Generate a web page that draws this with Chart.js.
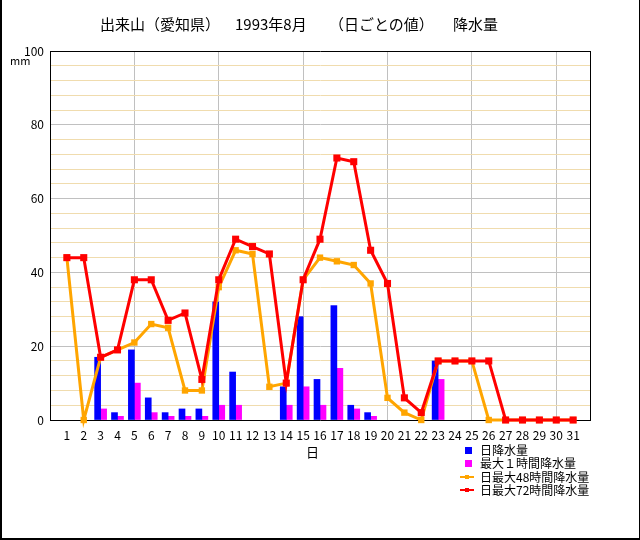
<!DOCTYPE html>
<html>
<head>
<meta charset="utf-8">
<script src="https://cdn.jsdelivr.net/npm/chart.js@4"></script>
<style>
html,body{margin:0;padding:0;background:#fff;}
#wrap{position:relative;width:640px;height:540px;background:#fff;overflow:hidden;}
#frame{position:absolute;left:0;top:0;width:640px;height:540px;box-sizing:border-box;border-left:2px solid #000;border-right:1px solid #000;border-bottom:2px solid #000;pointer-events:none;}
.t{position:absolute;font-family:"Noto Sans CJK JP","Noto Sans",sans-serif;color:#000;white-space:nowrap;line-height:1;}
.title{font-size:15px;top:16px;}
.lg{font-size:12px;left:480px;}
.sw{position:absolute;}
</style>
</head>
<body>
<div id="wrap">
<canvas id="c" width="640" height="540"></canvas>
<div class="t title" style="left:100px">出来山（愛知県）</div>
<div class="t title" style="left:235px">1993年8月</div>
<div class="t title" style="left:329px">（日ごとの値）</div>
<div class="t title" style="left:453px">降水量</div>
<div class="t" style="left:10px;top:55px;font-size:11px;">mm</div>
<div class="t" style="left:306px;top:445px;font-size:13px;">日</div>
<div class="sw" style="left:465px;top:447px;width:7px;height:7px;background:#0000ff"></div>
<div class="t lg" style="top:444px">日降水量</div>
<div class="sw" style="left:465px;top:460px;width:7px;height:7px;background:#ff00ff"></div>
<div class="t lg" style="top:457px">最大１時間降水量</div>
<div class="sw" style="left:460px;top:476px;width:14px;height:2px;background:#ffa500"></div>
<div class="sw" style="left:465px;top:475px;width:4px;height:4px;background:#ffa500"></div>
<div class="t lg" style="top:471px">日最大48時間降水量</div>
<div class="sw" style="left:460px;top:489px;width:14px;height:2px;background:#ff0000"></div>
<div class="sw" style="left:465px;top:488px;width:4px;height:4px;background:#ff0000"></div>
<div class="t lg" style="top:484px">日最大72時間降水量</div>
<div id="frame"></div>
</div>
<script>
const days = ['1','2','3','4','5','6','7','8','9','10','11','12','13','14','15','16','17','18','19','20','21','22','23','24','25','26','27','28','29','30','31'];
const dailyRain = [0,0,17,2,19,6,2,3,3,32,13,0,0,9,28,11,31,4,2,0,0,0,16,0,0,0,0,0,0,0,0];
const max1h    = [0,0,3,1,10,2,1,1,1,4,4,0,0,4,9,4,14,3,1,0,0,0,11,0,0,0,0,0,0,0,0];
const max48h   = [44,0,17,19,21,26,25,8,8,36,46,45,9,10,38,44,43,42,37,6,2,0,16,16,16,0,0,0,0,0,0];
const max72h   = [44,44,17,19,38,38,27,29,11,38,49,47,45,10,38,49,71,70,46,37,6,2,16,16,16,16,0,0,0,0,0];
const yTickLabels = [0,20,40,60,80,100];

const labels = [''].concat(days, ['']);
const pad = a => [null].concat(a, [null]);
const padBar = a => pad(a.map(v => v === 0 ? null : v));
const FONT = '"Noto Sans CJK JP", "Noto Sans", sans-serif';

new Chart(document.getElementById('c'), {
  type: 'bar',
  data: {
    labels: labels,
    datasets: [
      {type:'line', label:'日最大72時間降水量', data: pad(max72h), borderColor:'#ff0000', backgroundColor:'#ff0000',
       borderWidth:3, pointStyle:'rect', pointRadius:5, pointBorderWidth:0, tension:0, order:0, clip:false},
      {type:'line', label:'日最大48時間降水量', data: pad(max48h), borderColor:'#ffa500', backgroundColor:'#ffa500',
       borderWidth:3, pointStyle:'rect', pointRadius:4.5, pointBorderWidth:0, tension:0, order:1, clip:false},
      {type:'bar', label:'日降水量', data: padBar(dailyRain), backgroundColor:'#0000ff', barThickness:6, order:2},
      {type:'bar', label:'最大１時間降水量', data: padBar(max1h), backgroundColor:'#ff00ff', barThickness:6, order:3}
    ]
  },
  options: {
    responsive:false, animation:false, devicePixelRatio:1,
    layout:{padding:{left:0, top:51, right:50, bottom:90}},
    plugins:{legend:{display:false}, title:{display:false}, tooltip:{enabled:false}},
    scales:{
      x:{
        type:'category', offset:false,
        afterFit: s => { s.height = 30; },
        grid:{offset:false, drawTicks:false, lineWidth:1,
          color: ctx => (ctx.index === 0 || ctx.index === 32) ? '#000000' : (ctx.index % 5 === 0 ? '#c0c0c0' : 'rgba(0,0,0,0)')},
        border:{display:true, color:'#000', width:1},
        ticks:{autoSkip:false, maxRotation:0, minRotation:0, padding:8, color:'#000', font:{family:FONT, size:12}}
      },
      y:{
        min:0, max:100,
        afterFit: s => { s.width = 50; },
        grid:{drawTicks:false, lineWidth:1,
          color: ctx => { const v = ctx.tick.value; return v === 100 ? '#000000' : (v % 20 === 0 ? '#c0c0c0' : '#f0dcae'); }},
        border:{display:true, color:'#000', width:1},
        ticks:{stepSize:4, autoSkip:false, padding:6, color:'#000', font:{family:FONT, size:12},
          callback: v => yTickLabels.includes(v) ? String(v) : ''}
      }
    }
  }
});
</script>
</body>
</html>
